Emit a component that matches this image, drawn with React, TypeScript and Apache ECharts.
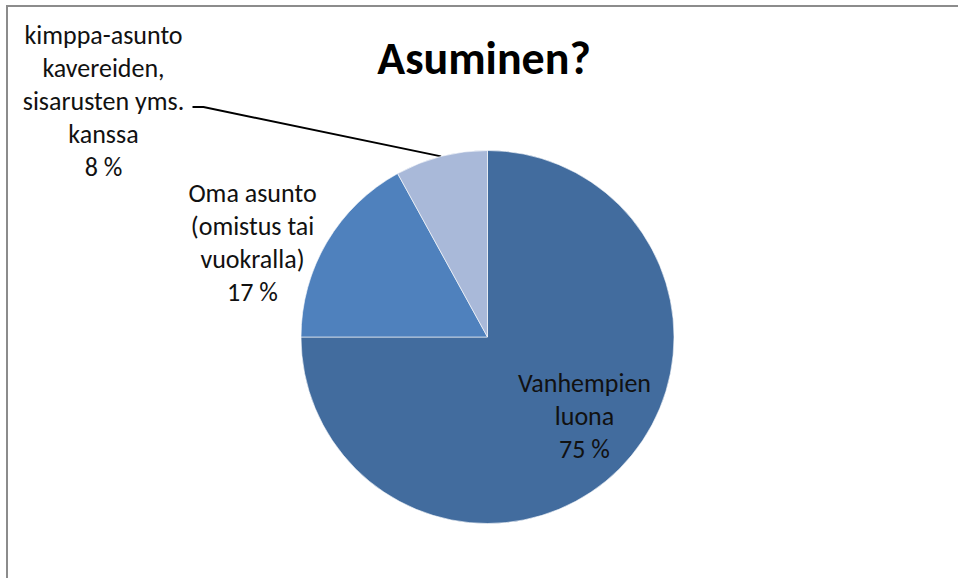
import React, { useEffect, useRef } from "react";
import * as echarts from "echarts";

const titleText = "Asuminen?";
const categories = [
  "Vanhempien\nluona",
  "Oma asunto\n(omistus tai\nvuokralla)",
  "kimppa-asunto\nkavereiden,\nsisarusten yms.\nkanssa",
];
const values = [75, 17, 8];
const colors = ["#426C9E", "#4F81BD", "#A9B9D9"];

const FONT = "Carlito, Calibri, Lato, 'Open Sans', sans-serif";

export default function App() {
  const ref = useRef<HTMLDivElement>(null);
  useEffect(() => {
    if (!ref.current) return;
    const chart = echarts.init(ref.current, undefined, { renderer: "svg" });
    const cx = 487.5;
    const cy = 337;
    const r = 186.5;
    // label block centres relative to the pie
    const labelPos = [
      { x: cx + 97, y: cy + 79 },
      { x: cx - 235, y: cy - 95 },
      { x: cx - 384, y: cy - 236 },
    ];
    chart.setOption({
      animation: false,
      backgroundColor: "#ffffff",
      graphic: [
        {
          type: "rect",
          shape: { x: 7, y: 6, width: 1200, height: 800 },
          style: { fill: "none", stroke: "#8c8c8c", lineWidth: 2 },
          silent: true,
        },
        {
          type: "text",
          x: 484,
          y: 58,
          style: {
            text: titleText,
            font: `bold 46px ${FONT}`,
            fill: "#000000",
            align: "center",
            verticalAlign: "middle",
          },
        },
      ],
      series: [
        {
          type: "pie",
          center: [cx, cy],
          radius: [0, r],
          startAngle: 90,
          clockwise: true,
          avoidLabelOverlap: false,
          itemStyle: { borderColor: "#ffffff", borderWidth: 0.6 },
          emphasis: { disabled: true },
          label: {
            show: true,
            formatter: (p: any) => `${p.name}\n${p.value} %`,
            fontFamily: FONT,
            fontSize: 26,
            lineHeight: 33,
            color: "#111111",
            align: "center",
          },
          labelLine: { show: false },
          labelLayout: (params: any) => {
            const i = params.dataIndex;
            const res: any = {
              x: labelPos[i].x,
              y: labelPos[i].y,
              align: "center",
              verticalAlign: "middle",
            };
            if (i === 2 && params.labelLinePoints) {
              const start = params.labelLinePoints[0];
              res.labelLinePoints = [
                start,
                [cx - 284, cy - 230],
                [cx - 295, cy - 230],
              ];
            }
            return res;
          },
          data: values.map((v, i) => ({
            name: categories[i],
            value: v,
            itemStyle: { color: colors[i] },
            label: i === 0 ? { position: "inside" } : { position: "outside" },
            labelLine:
              i === 2
                ? { show: true, length: 20, length2: 20, lineStyle: { color: "#000000", width: 2 } }
                : { show: false },
          })),
        },
      ],
    });
    return () => chart.dispose();
  }, []);
  return (
    <div
      ref={ref}
      style={{ position: "fixed", left: 0, top: 0, width: 958, height: 578 }}
    />
  );
}
